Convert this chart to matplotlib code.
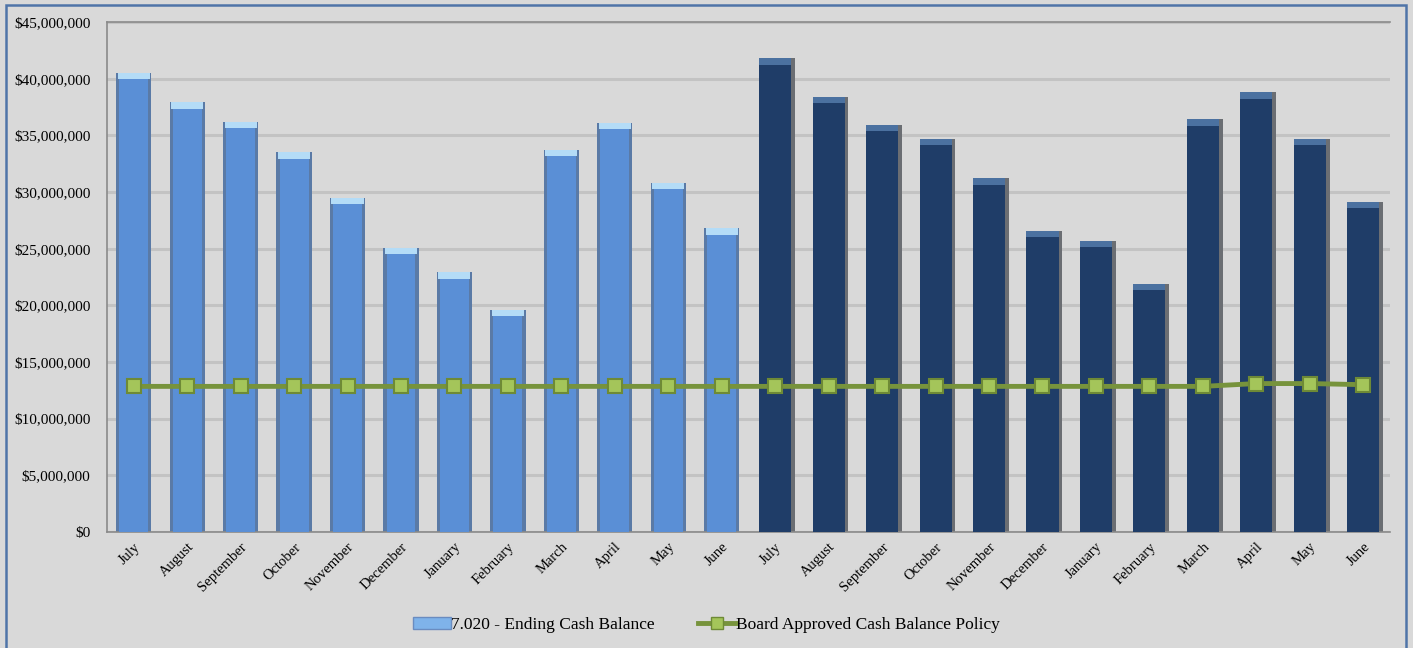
import matplotlib
matplotlib.use("Agg")
import matplotlib.pyplot as plt
from matplotlib.patches import Rectangle
from matplotlib.lines import Line2D
from matplotlib.ticker import FuncFormatter, MultipleLocator
import numpy as np

months = ["July", "August", "September", "October", "November", "December",
          "January", "February", "March", "April", "May", "June"]

# Ending cash balance, prior year (light) and current year (dark), in dollars
ending_balance_prior = [40.5e6, 37.9e6, 36.2e6, 33.5e6, 29.5e6, 25.1e6,
                        22.9e6, 19.6e6, 33.7e6, 36.1e6, 30.8e6, 26.8e6]
ending_balance_current = [41.8e6, 38.4e6, 35.9e6, 34.7e6, 31.2e6, 26.6e6,
                          25.7e6, 21.9e6, 36.4e6, 38.8e6, 34.7e6, 29.1e6]

# Board approved minimum cash balance policy
policy_prior = [12.85e6] * 12
policy_current = [12.85e6] * 9 + [13.1e6, 13.1e6, 13.0e6]

tick_labels = months + months
balance = ending_balance_prior + ending_balance_current
policy = policy_prior + policy_current

plt.rcParams["font.family"] = ["Liberation Serif", "DejaVu Serif"]

fig = plt.figure(figsize=(14.13, 6.48), dpi=100, facecolor="#d9d9d9")
ax = fig.add_axes([0.0757, 0.179, 0.908, 0.787])
ax.set_facecolor("#d9d9d9")

n = len(balance)
x = np.arange(n)
width = 0.6
cap = 0.55e6

light_idx = x[:12]
dark_idx = x[12:]
light_vals = np.array(ending_balance_prior)
dark_vals = np.array(ending_balance_current)

# gridlines
ax.set_ylim(0, 45e6)
ax.set_xlim(-0.5, n - 0.5)
ax.yaxis.set_major_locator(MultipleLocator(5e6))
ax.grid(axis="y", color="#c3c3c3", linewidth=2.2, zorder=0)
ax.set_axisbelow(True)

# prior-year bars: blue body with darker edges and a pale top highlight
ax.bar(light_idx, light_vals, width=width + 0.06, color="#5a7aa6", zorder=2, linewidth=0)
ax.bar(light_idx, light_vals, width=width - 0.06, color="#5a8fd6", zorder=3, linewidth=0)
ax.bar(light_idx, np.full(12, cap), bottom=light_vals - cap, width=width,
       color="#b4dcf7", zorder=4, linewidth=0)

# current-year bars: navy body with a grey side shadow and a lighter top
ax.bar(dark_idx + 0.07, dark_vals, width=width, color="#6b6e73", zorder=2, linewidth=0)
ax.bar(dark_idx, dark_vals, width=width, color="#1f3d68", zorder=3, linewidth=0)
ax.bar(dark_idx, np.full(12, cap), bottom=dark_vals - cap, width=width,
       color="#4b71a0", zorder=4, linewidth=0)

# policy line
ax.plot(x, policy, color="#77933c", linewidth=3.5, marker="s", markersize=10,
        markerfacecolor="#a4c55a", markeredgecolor="#6e8a36", markeredgewidth=1.5,
        zorder=6)

ax.yaxis.set_major_formatter(FuncFormatter(lambda v, p: f"${v:,.0f}"))
ax.set_xticks(x)
ax.set_xticklabels(tick_labels, rotation=45, ha="right", rotation_mode="anchor",
                   fontsize=10.5)
ax.tick_params(axis="y", labelsize=11, length=0, pad=12)
ax.tick_params(axis="x", length=0, pad=6)

for side in ["right"]:
    ax.spines[side].set_visible(False)
for side in ["left", "bottom", "top"]:
    ax.spines[side].set_color("#8a8a8a")
    ax.spines[side].set_linewidth(1.2)

# legend
bar_handle = Rectangle((0, 0), 1, 1, facecolor="#7fb3ea", edgecolor="#6a8cc0")
line_handle = Line2D([0], [0], color="#77933c", linewidth=3.5, marker="s",
                     markersize=9, markerfacecolor="#a4c55a",
                     markeredgecolor="#6e8a36")
fig.legend([bar_handle, line_handle],
           ["7.020 - Ending Cash Balance", "Board Approved Cash Balance Policy"],
           loc="center", bbox_to_anchor=(0.5, 0.035), ncol=2, frameon=False,
           fontsize=12.5, handlelength=2.2, handletextpad=0.0, columnspacing=2.5)

# outer chart border
fig.patches.append(Rectangle((0.004, -0.01), 0.991, 1.002, transform=fig.transFigure,
                             fill=False, edgecolor="#4f74a8", linewidth=1.8))

fig.savefig("out.png", dpi=100, facecolor=fig.get_facecolor())
